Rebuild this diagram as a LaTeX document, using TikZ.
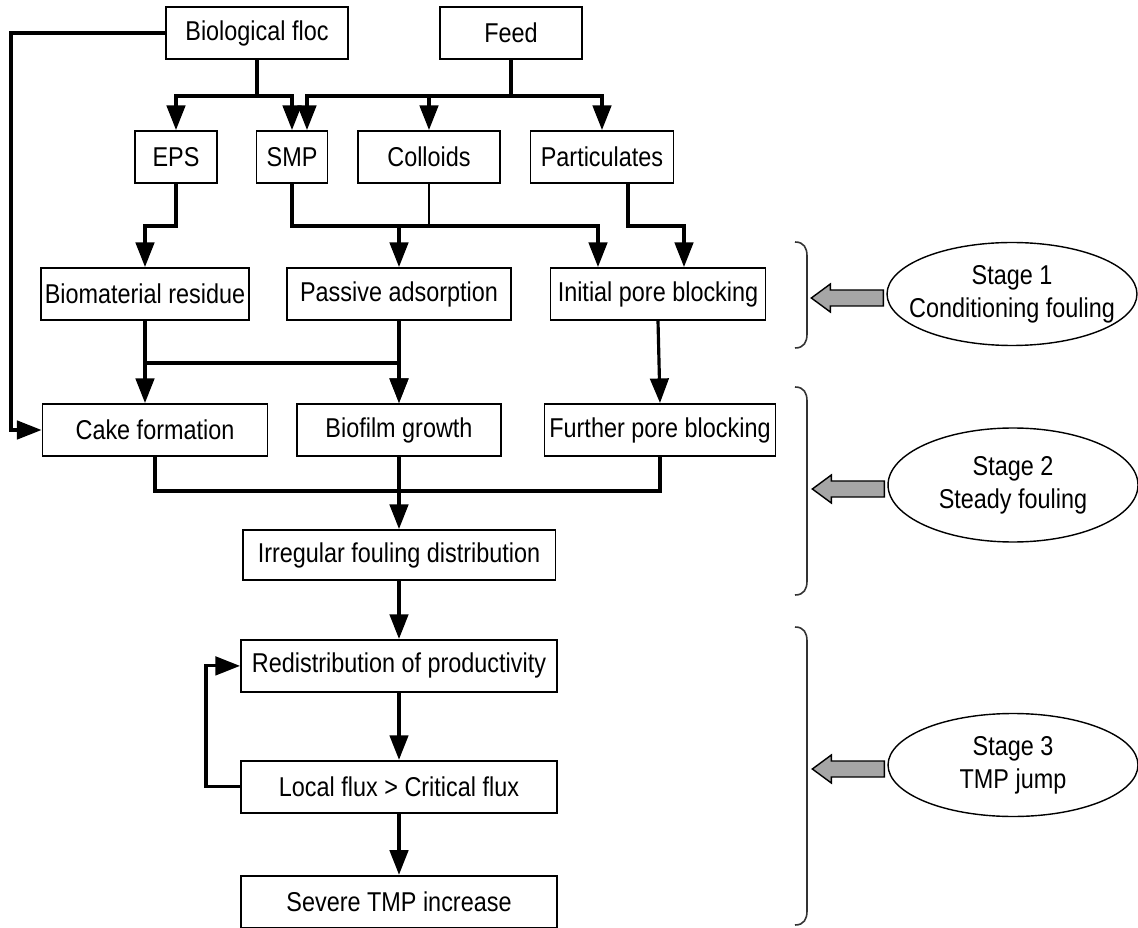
\documentclass[tikz,border=0pt]{standalone}
\usepackage{fontspec}
\setmainfont{Liberation Sans}[FakeStretch=0.86]
\usepackage{tikz}
\usetikzlibrary{shapes.geometric, arrows.meta, positioning, calc}

% grey block arrow pointing from a stage ellipse to its bracket
\newcommand{\stagearrow}[1]{%
  \draw[fill=gray!70, line width=0.8pt] ($(#1.west)+(-3,-4)$) -- ++(-53,0) -- ++(0,-6) -- ++(-19,14) -- ++(19,14) -- ++(0,-6) -- ++(53,0) -- cycle;}

\begin{document}
\begin{tikzpicture}[
    x=0.02cm, y=-0.02cm,
    font=\fontsize{15.5}{18.6}\selectfont,
    box/.style={rectangle, draw, line width=1.1pt, minimum height=1.04cm, inner xsep=2pt, text centered},
    arrow/.style={-{Triangle[length=14pt, width=10.5pt]}, line width=1.8pt},
    link/.style={line width=1.8pt},
    stage/.style={ellipse, draw, line width=0.8pt, minimum width=5cm, minimum height=2.06cm, inner xsep=-20pt, align=center},
    bracket/.style={line width=0.9pt, black!80}
]
    \useasboundingbox (0,0) rectangle (1138,928);

    \node[box, minimum width=3.64cm] (floc) at (257,33) {Biological floc};
    \node[box, minimum width=2.84cm] (feed) at (511,33) {Feed};
    \node[box, minimum width=1.64cm] (eps) at (176,157) {EPS};
    \node[box, minimum width=1.42cm] (smp) at (292,157) {SMP};
    \node[box, minimum width=2.84cm] (colloids) at (429,157) {Colloids};
    \node[box, minimum width=2.86cm] (partic) at (602,157) {Particulates};
    \node[box, minimum width=4.08cm] (residue) at (145,294) {Biomaterial residue};
    \node[box, minimum width=4.48cm] (adsorb) at (399,294) {Passive adsorption};
    \node[box, minimum width=4.30cm] (initial) at (658,294) {Initial pore blocking};
    \node[box, minimum width=4.50cm] (cake) at (155,430) {Cake formation};
    \node[box, minimum width=4.08cm] (biofilm) at (399,430) {Biofilm growth};
    \node[box, minimum width=4.62cm] (further) at (660,430) {Further pore blocking};
    \node[box, minimum width=6.26cm, minimum height=1cm] (irregular) at (399,555) {Irregular fouling distribution};
    \node[box, minimum width=6.32cm, below=1.16cm of irregular] (redist) {Redistribution of productivity};
    \node[box, minimum width=6.32cm, below=1.34cm of redist] (localflux) {Local flux > Critical flux};
    \node[box, minimum width=6.32cm, below=1.22cm of localflux] (severe) {Severe TMP increase};

    \node[stage] (stage1) at (1012,294) {Stage 1\\Conditioning fouling};
    \node[stage, minimum height=2.28cm] (stage2) at (1013,485) {Stage 2\\Steady fouling};
    \node[stage] (stage3) at (1013,765) {Stage 3\\TMP jump};

    % sources
    \draw[arrow] (floc.west) -- ++(-154,0) |- (cake.west);
    \draw[arrow] (floc.south) -- ++(0,36) -| (eps.north);
    \draw[arrow] (floc.south) -- ++(0,36) -| (smp.north);
    \draw[arrow] (feed.south) -- ++(0,36) -| ($(smp.north)+(15,0)$);
    \draw[arrow] (feed.south) -- ++(0,36) -| (colloids.north);
    \draw[arrow] (feed.south) -- ++(0,36) -| (partic.north);

    % conditioning fouling
    \draw[arrow] (eps.south) -- ++(0,42) -| (residue.north);
    \draw[arrow] (smp.south) -- ++(0,42) -| (adsorb.north);
    \draw[arrow] (smp.south) -- ++(0,42) -| ($(initial.north)+(-60,0)$);
    \draw[line width=0.9pt] (colloids.south) -- ++(0,42);
    \draw[arrow] ($(partic.south)+(26,0)$) -- ++(0,42) -| ($(initial.north)+(26,0)$);

    % steady fouling
    \draw[arrow] (residue.south) -- (residue.south |- cake.north);
    \draw[arrow] (residue.south) -- ++(0,42) -| (biofilm.north);
    \draw[arrow] (adsorb.south) -- (biofilm.north);
    \draw[arrow] (initial.south) -- (further.north);
    \draw[link] (cake.south) -- ++(0,34) -| (further.south);
    \draw[arrow] (biofilm.south) -- (irregular.north);

    % TMP jump
    \draw[arrow] (irregular) -- (redist);
    \draw[arrow] (redist) -- (localflux);
    \draw[arrow] (localflux) -- (severe);
    \draw[arrow] (localflux.west) -- ++(-34,0) |- (redist.west);

    % brackets and stage pointers
    \draw[bracket] (795,242) .. controls (804,242) and (807,248) .. (807,256) -- (807,334) .. controls (807,342) and (804,348) .. (795,348);
    \draw[bracket] (795,387) .. controls (804,387) and (807,393) .. (807,401) -- (807,581) .. controls (807,589) and (804,595) .. (795,595);
    \draw[bracket] (795,627) .. controls (804,627) and (807,633) .. (807,641) -- (807,911) .. controls (807,919) and (804,925) .. (795,925);
    \stagearrow{stage1}
    \stagearrow{stage2}
    \stagearrow{stage3}
\end{tikzpicture}
\end{document}
